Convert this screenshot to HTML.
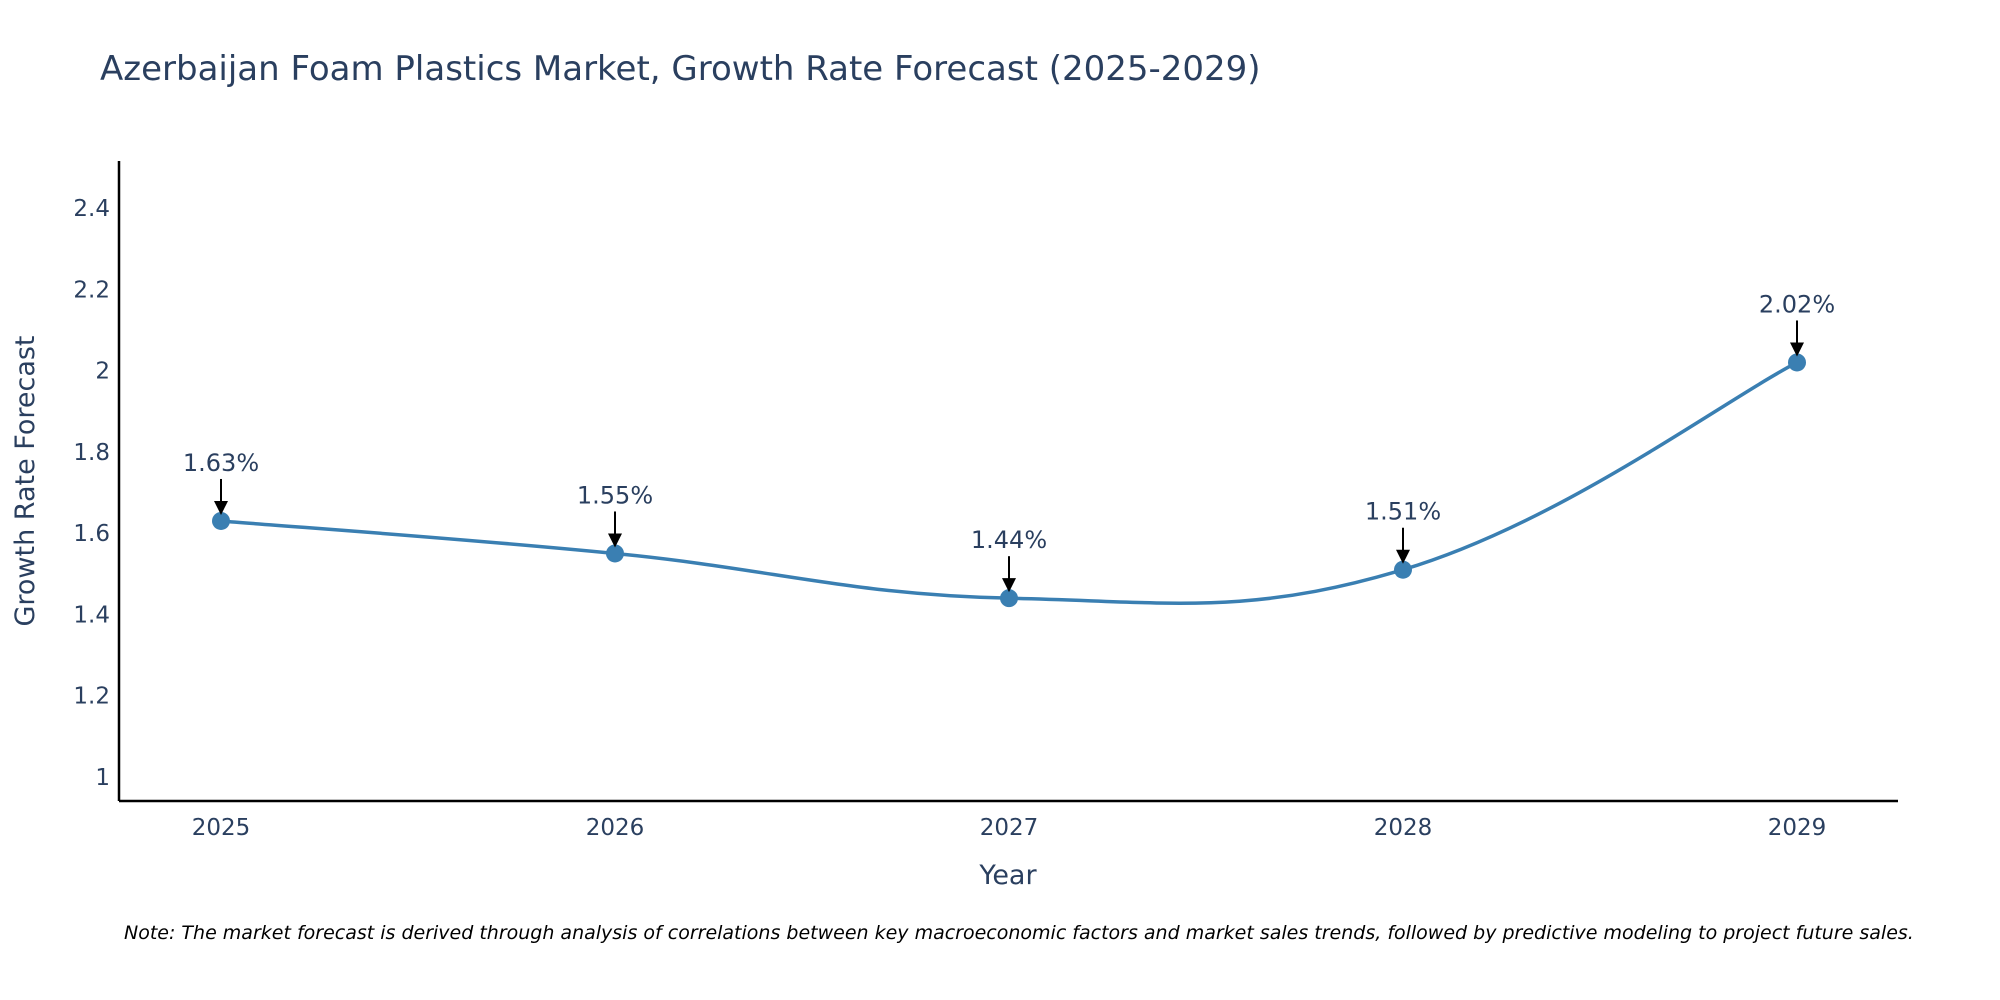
<!DOCTYPE html>
<html><head><meta charset="utf-8"><style>
body{margin:0;background:#fff;}
svg{display:block;font-family:"DejaVu Sans","Liberation Sans",sans-serif;}
</style></head><body>
<svg id="chart" width="2000" height="1000" viewBox="0 0 2000 1000">
<text x="100" y="80" font-size="34" fill="#2a3f5f">Azerbaijan Foam Plastics Market, Growth Rate Forecast (2025-2029)</text>
<g id="yticks"></g>
<g id="xticks"></g>
<line x1="119" y1="161" x2="119" y2="801" stroke="#000" stroke-width="2.5"/>
<line x1="119" y1="801" x2="1898" y2="801" stroke="#000" stroke-width="2.5"/>
<text transform="translate(34,481) rotate(-90)" text-anchor="middle" font-size="27" fill="#2a3f5f">Growth Rate Forecast</text>
<text x="1008" y="884" text-anchor="middle" font-size="27" fill="#2a3f5f">Year</text>
<g id="series"></g>
<text x="124" y="939" font-size="19" font-style="italic" fill="#000">Note: The market forecast is derived through analysis of correlations between key macroeconomic factors and market sales trends, followed by predictive modeling to project future sales.</text>
</svg>
<script>
const years = [2025, 2026, 2027, 2028, 2029];
const growth = [1.63, 1.55, 1.44, 1.51, 2.02];
const labels = ["1.63%", "1.55%", "1.44%", "1.51%", "2.02%"];
const yTicks = [1, 1.2, 1.4, 1.6, 1.8, 2, 2.2, 2.4];
const yTickLabels = ["1", "1.2", "1.4", "1.6", "1.8", "2", "2.2", "2.4"];

const NS = "http://www.w3.org/2000/svg";
const X0 = 221, X1 = 1797;
const xScale = y => X0 + (y - years[0]) * (X1 - X0) / (years[years.length-1] - years[0]);
const yScale = v => 777 - (v - 1) * 406.4;
function mk(tag, attrs, parent) {
  const e = document.createElementNS(NS, tag);
  for (const k in attrs) e.setAttribute(k, attrs[k]);
  parent.appendChild(e);
  return e;
}
const yt = document.getElementById("yticks");
yTicks.forEach((v, i) => {
  const t = mk("text", {x: 110, y: yScale(v) + 8, "text-anchor": "end", "font-size": 23, fill: "#2a3f5f"}, yt);
  
  
  t.textContent = yTickLabels[i];
});
const xt = document.getElementById("xticks");
years.forEach(y => {
  const t = mk("text", {x: xScale(y), y: 835, "text-anchor": "middle", "font-size": 23, fill: "#2a3f5f"}, xt);
  
  
  t.textContent = y;
});
const g = document.getElementById("series");
const pts = years.map((y, i) => [xScale(y), yScale(growth[i])]);
let d = "M" + pts[0][0] + "," + pts[0][1];
const s = 0.2;
for (let i = 0; i < pts.length - 1; i++) {
  const p0 = pts[Math.max(0, i-1)], p1 = pts[i], p2 = pts[i+1], p3 = pts[Math.min(pts.length-1, i+2)];
  const c1 = [p1[0] + (p2[0]-p0[0])*s, p1[1] + (p2[1]-p0[1])*s];
  const c2 = [p2[0] - (p3[0]-p1[0])*s, p2[1] - (p3[1]-p1[1])*s];
  d += " C" + c1.join(",") + " " + c2.join(",") + " " + p2.join(",");
}
const line = mk("path", {d: d, fill: "none", stroke: "#3a7fb2", "stroke-width": 3.5}, g);


pts.forEach((p, i) => {
  const c = mk("circle", {cx: p[0], cy: p[1], r: 9, fill: "#3a7fb2"}, g);
  
  
  const a = mk("line", {x1: p[0], y1: p[1] - 42, x2: p[0], y2: p[1] - 18, stroke: "#000", "stroke-width": 2}, g);
  
  
  const h = mk("polygon", {points: (p[0]-7)+","+(p[1]-20)+" "+(p[0]+7)+","+(p[1]-20)+" "+p[0]+","+(p[1]-6), fill: "#000"}, g);
  
  
  const t = mk("text", {x: p[0], y: p[1] - 50, "text-anchor": "middle", "font-size": 24, fill: "#2a3f5f"}, g);
  
  
  t.textContent = labels[i];
});
</script>
</body></html>
